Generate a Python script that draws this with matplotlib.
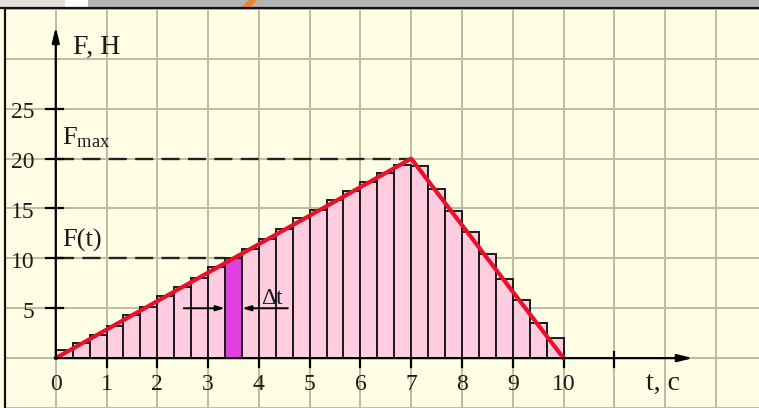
import matplotlib
matplotlib.use('Agg')
import matplotlib.pyplot as plt
from matplotlib.patches import Rectangle, Polygon
from matplotlib.lines import Line2D
import numpy as np

plt.rcParams['font.family'] = ['Liberation Serif', 'DejaVu Serif']
plt.rcParams['mathtext.fontset'] = 'custom'
plt.rcParams['mathtext.rm'] = 'Liberation Serif'
plt.rcParams['mathtext.it'] = 'Liberation Serif:italic'
plt.rcParams['lines.scale_dashes'] = False

# ---- data ----
dt = 1 / 3
line_t = [0, 7, 10]
line_F = [0, 20, 0]
bar_heights = [0.8, 1.5, 2.3, 3.2, 4.3, 5.1, 6.2, 7.1, 8.0, 9.1,
               10.0, 10.9, 11.9, 12.9, 14.0, 14.8, 15.9, 16.8, 17.7, 18.6,
               19.4, 19.3, 17.0, 14.7, 12.6, 10.4, 7.9, 5.8, 3.5, 2.0]
highlight_index = 10
x_tick_values = list(range(0, 11))
x_tick_labels = [str(v) for v in x_tick_values]
y_tick_values = [5, 10, 15, 20, 25]
y_tick_labels = [str(v) for v in y_tick_values]
F_max = 20
F_t = 10

W, H = 759, 408
fig = plt.figure(figsize=(W / 100, H / 100), dpi=100)
fig.patch.set_facecolor('#FFFFE6')

ax = fig.add_axes([5 / W, 0, 1 - 5 / W, 1 - 9 / H])
ax.set_facecolor('#FFFFE6')
x0px, xs = 55, 50.83
y0px, ys = 363, 10.15
ax.set_xlim((5 - x0px) / xs, (W - x0px) / xs)
ax.set_ylim((y0px - H) / ys, (y0px - 9) / ys)
for s in ax.spines.values():
    s.set_visible(False)

TXT = '#1A1A1A'

# grid
ax.set_xticks(np.arange(-1, 14))
ax.set_yticks(np.arange(-5, 36, 5))
ax.tick_params(length=0, labelbottom=False, labelleft=False)
ax.grid(True, color='#BDBC9C', linewidth=1.4, zorder=0)
ax.set_axisbelow(True)

# bars
lefts = np.arange(len(bar_heights)) * dt
colors = ['#FFCCE0'] * len(bar_heights)
colors[highlight_index] = '#E040E0'
ax.bar(lefts, bar_heights, width=dt, align='edge', color=colors,
       edgecolor='#1A1A1A', linewidth=1.4, zorder=2)

# dashed reference lines
ax.plot([0, 7], [F_max, F_max], color='#222222', lw=1.7,
        linestyle=(0, (13, 6)), zorder=3)
ax.plot([0, 3.33], [F_t, F_t], color='#222222', lw=1.7,
        linestyle=(0, (13, 6)), zorder=3)

# F(t) line
ax.plot(line_t, line_F, color='#E8102A', lw=3.0, zorder=5,
        solid_capstyle='round')

# axes arrows
ax.annotate('', xy=(0, 33.2), xytext=(0, -0.05),
            arrowprops=dict(arrowstyle='-|>,head_length=0.9,head_width=0.22',
                            color='black', lw=1.6, shrinkA=0, shrinkB=0), zorder=6)
ax.annotate('', xy=(12.55, 0), xytext=(-0.02, 0),
            arrowprops=dict(arrowstyle='-|>,head_length=0.9,head_width=0.22',
                            color='black', lw=1.6, shrinkA=0, shrinkB=0), zorder=6)

# ticks
for v in y_tick_values:
    ax.plot([-0.2, 0.14], [v, v], color='black', lw=1.6, zorder=6)
for v in list(range(1, 12)):
    ax.plot([v, v], [0.6, -0.9], color='black', lw=1.6, zorder=1.5)

# tick labels
for v, lab in zip(y_tick_values, y_tick_labels):
    ax.text(-0.42, v - 0.95, lab, ha='right', va='baseline', fontsize=17,
            color=TXT, zorder=7)
for v, lab in zip(x_tick_values, x_tick_labels):
    ax.text(v, -3.15, lab, ha='center', va='baseline', fontsize=17,
            color=TXT, zorder=7)

# axis labels and annotations
ax.text(0.33, 30.5, 'F, H', ha='left', va='baseline', fontsize=20, color=TXT)
ax.text(11.95, -3.15, 't, c', ha='center', va='baseline', fontsize=20, color=TXT)
ax.text(0.13, 21.4, r'F$_{\mathrm{max}}$', ha='left', va='baseline', fontsize=19,
        color=TXT)
ax.text(0.13, 11.2, 'F(t)', ha='left', va='baseline', fontsize=19, color=TXT)
ax.text(4.05, 5.4, 'Δt', ha='left', va='baseline', fontsize=17, color=TXT, zorder=7)

# Δt arrows
ax.annotate('', xy=(3.33, 5), xytext=(2.52, 5),
            arrowprops=dict(arrowstyle='-|>,head_length=0.5,head_width=0.15',
                            color='black', lw=1.4, shrinkA=0, shrinkB=0), zorder=7)
ax.annotate('', xy=(3.67, 5), xytext=(4.57, 5),
            arrowprops=dict(arrowstyle='-|>,head_length=0.5,head_width=0.15',
                            color='black', lw=1.4, shrinkA=0, shrinkB=0), zorder=7)

# slide decoration strip at top
def px(x, y):
    return (x / W, 1 - y / H)

fig.patches.append(Rectangle(px(0, 7), 65 / W, 7 / H, transform=fig.transFigure,
                             facecolor='#E3DED6', edgecolor='none', zorder=10))
fig.patches.append(Rectangle(px(65, 7), 23 / W, 7 / H, transform=fig.transFigure,
                             facecolor='#FFFFFF', edgecolor='none', zorder=10))
fig.patches.append(Rectangle(px(88, 7), (W - 88) / W, 7 / H, transform=fig.transFigure,
                             facecolor='#B4B4B4', edgecolor='none', zorder=10))
fig.patches.append(Polygon([px(242, 7), px(250, 7), px(257, 0), px(249, 0)],
                           closed=True, transform=fig.transFigure,
                           facecolor='#F08030', edgecolor='none', zorder=11))
fig.lines.append(Line2D([0, 1], [1 - 8 / H, 1 - 8 / H], transform=fig.transFigure,
                        color='#111111', lw=1.6, zorder=12))
fig.lines.append(Line2D([4.5 / W, 4.5 / W], [0, 1 - 8 / H], transform=fig.transFigure,
                        color='#111111', lw=1.6, zorder=12))

fig.savefig('out.png', dpi=100, facecolor=fig.get_facecolor())
